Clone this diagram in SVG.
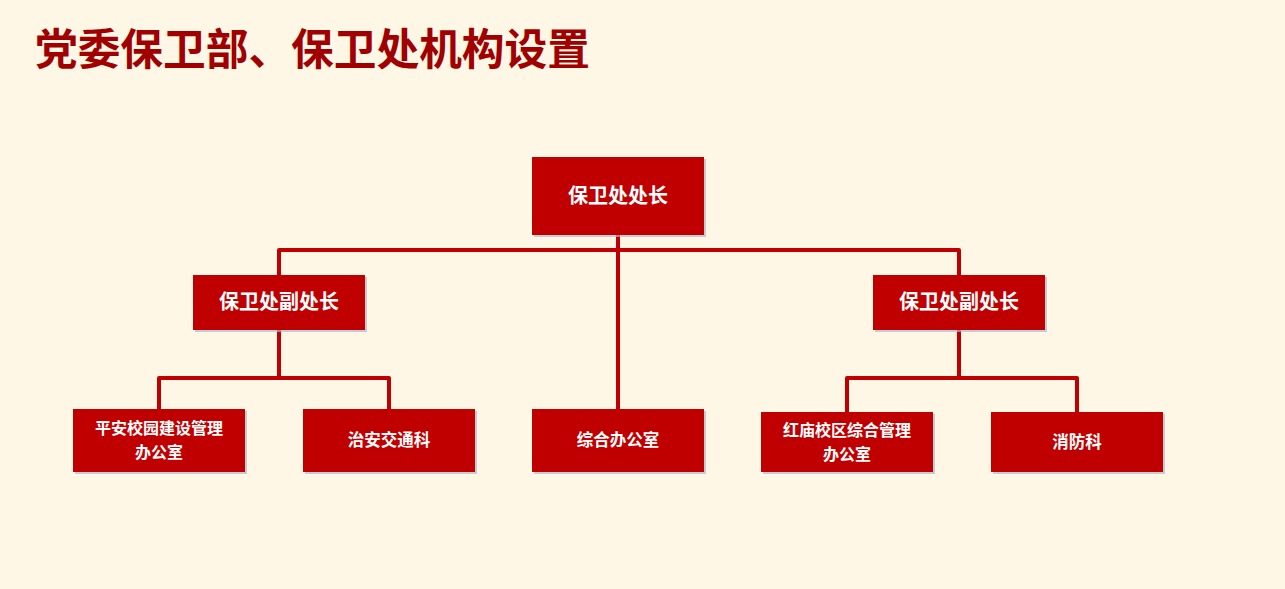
<svg xmlns="http://www.w3.org/2000/svg" width="1285" height="589" viewBox="0 0 1285 589">
<defs>
<style>
.box{fill:#C00000;}
.sh{fill:#A9B8CF;opacity:0.7;}
.t{font-family:"Noto Sans CJK SC","Noto Sans CJK JP",sans-serif;font-weight:bold;fill:#FFFFFF;text-anchor:middle;}
.t1{font-size:20px;}
.t2{font-size:20px;}
.t3{font-size:16.5px;}
.t4{font-size:16px;}
.ln{stroke:#C00000;stroke-width:4;fill:none;stroke-linejoin:round;stroke-linecap:round;}
</style>
</defs>
<rect x="0" y="0" width="1285" height="589" fill="#FFF7E5"/>
<text x="35" y="65" font-family="'Noto Sans CJK SC','Noto Sans CJK JP',serif" font-weight="bold" font-size="42.7" fill="#A00000">党委保卫部、保卫处机构设置</text>
<g id="connectors">
<path class="ln" d="M618,235 V410"/>
<path class="ln" d="M279,275 V250 H959 V275"/>
<path class="ln" d="M279,330 V378"/>
<path class="ln" d="M159,409 V378 H389 V409"/>
<path class="ln" d="M959,330 V378"/>
<path class="ln" d="M847,412 V378 H1077 V412"/>
</g>
<g id="n-chief">
<rect class="sh" x="534" y="159" width="172" height="78"/>
<rect class="box" x="532" y="157" width="172" height="78"/>
<text class="t t1" x="618" y="203">保卫处处长</text>
</g>
<g id="n-deputy-left">
<rect class="sh" x="195" y="277" width="172" height="55"/>
<rect class="box" x="193" y="275" width="172" height="55"/>
<text class="t t2" x="279" y="309">保卫处副处长</text>
</g>
<g id="n-deputy-right">
<rect class="sh" x="875" y="277" width="172" height="55"/>
<rect class="box" x="873" y="275" width="172" height="55"/>
<text class="t t2" x="959" y="309">保卫处副处长</text>
</g>
<g id="n-pingan">
<rect class="sh" x="75" y="411" width="172" height="63"/>
<rect class="box" x="73" y="409" width="172" height="63"/>
<text class="t t4" x="159" y="434">平安校园建设管理</text>
<text class="t t4" x="159" y="458">办公室</text>
</g>
<g id="n-zhian">
<rect class="sh" x="305" y="411" width="172" height="63"/>
<rect class="box" x="303" y="409" width="172" height="63"/>
<text class="t t3" x="389" y="446">治安交通科</text>
</g>
<g id="n-zonghe">
<rect class="sh" x="534" y="411" width="172" height="63"/>
<rect class="box" x="532" y="409" width="172" height="63"/>
<text class="t t3" x="618" y="446">综合办公室</text>
</g>
<g id="n-hongmiao">
<rect class="sh" x="763" y="414" width="172" height="60"/>
<rect class="box" x="761" y="412" width="172" height="60"/>
<text class="t t4" x="847" y="436">红庙校区综合管理</text>
<text class="t t4" x="847" y="460">办公室</text>
</g>
<g id="n-xiaofang">
<rect class="sh" x="993" y="414" width="172" height="60"/>
<rect class="box" x="991" y="412" width="172" height="60"/>
<text class="t t3" x="1077" y="448">消防科</text>
</g>
</svg>
